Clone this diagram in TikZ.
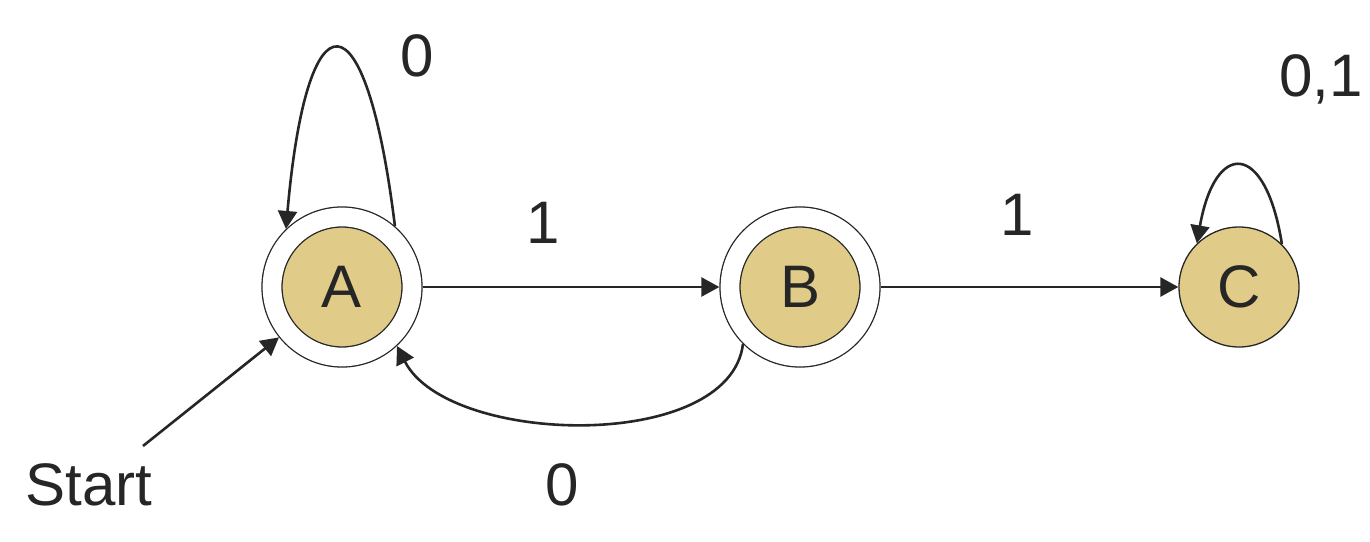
\documentclass[tikz,border=0pt]{standalone}
\usepackage{fontspec}
\setmainfont{Liberation Sans}
\usetikzlibrary{arrows.meta}
\definecolor{statefill}{RGB}{224,204,136}
\definecolor{ink}{RGB}{38,38,38}

\begin{document}
\begin{tikzpicture}[x=0.5bp,y=0.5bp,
  state/.style={circle,draw=ink,fill=statefill,line width=0.65bp,minimum size=60bp,inner sep=0pt},
  final/.style={state,minimum size=70bp,double=white,double distance=9.35bp,outer sep=5.33bp},
  trans/.style={draw=ink,line width=1.3bp,-{Triangle[length=9bp,width=9.5bp]}},
  lbl/.style={anchor=base,inner sep=0pt}]
\tikzstyle{every node}+=[font=\fontsize{30bp}{36bp}\selectfont,text=ink]
\useasboundingbox (0,0) rectangle (1370,-542);
\node [final] (A) at (342,-287) {A};
\node [final] (B) at (800,-287) {B};
\node [state] (C) at (1239,-287) {C};
\node [lbl,anchor=base west] (start) at (25,-505) {Start};
\coordinate (s) at (143,-446);
\draw [trans] (s) -- (A);
\draw [trans] (A) -- (B);
\draw [trans] (B) -- (C);
\draw [trans] (A.49) .. controls +(97:240) and +(85:240) .. (A.134);
\draw [trans] (B.225) .. controls +(263:110) and +(-63:112) .. (A.-47);
\draw [trans] (C.45) .. controls +(99:105) and +(80:105) .. (C.134);
\node [lbl] (zeroA) at (417,-77) {0};
\node [lbl] (oneAB) at (543,-244) {1};
\node [lbl] (oneBC) at (1017,-236) {1};
\node [lbl] (zeroBA) at (562,-505) {0};
\node [lbl,anchor=base west] (bothC) at (1279,-97) {0,1};
\end{tikzpicture}
\end{document}
